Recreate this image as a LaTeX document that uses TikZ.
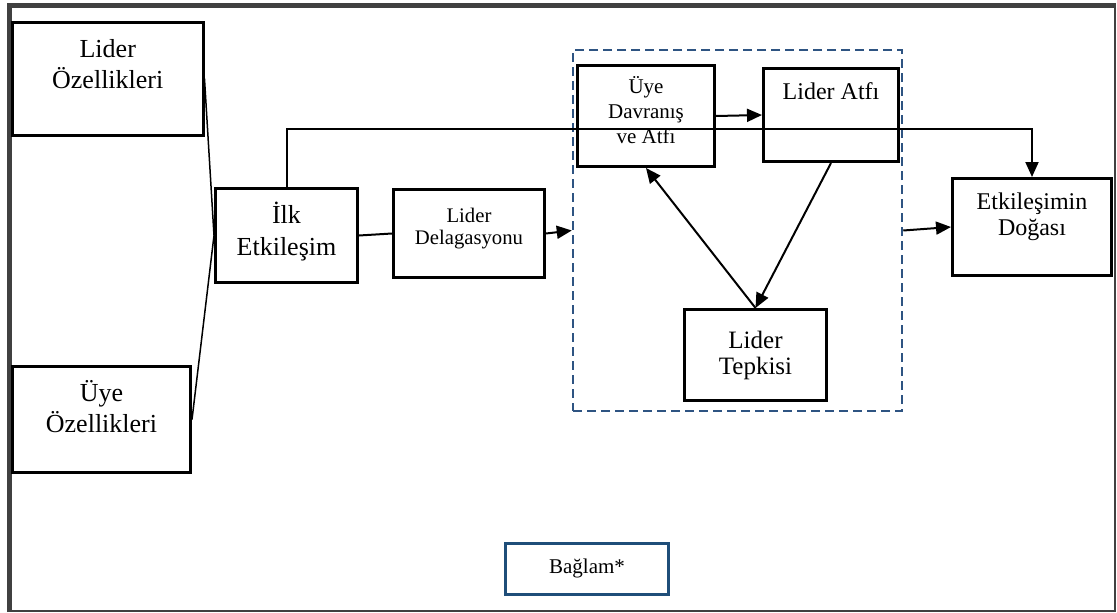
\documentclass[tikz,border=0pt]{standalone}
\usepackage{fontspec}
\setmainfont{Liberation Serif}
\usetikzlibrary{arrows.meta}
\definecolor{framegray}{RGB}{64,64,64}
\definecolor{dashblue}{RGB}{46,84,130}
\definecolor{ctxblue}{RGB}{31,78,121}

% a framed box given by the corners of its border line
\newcommand\cornerbox[6][]{%
  \node[boxframe,#1, minimum width={#5pt-#3pt}, minimum height={#6pt-#4pt}]
    (#2) at ({(#3+#5)/2},{(#4+#6)/2}) {};}

\begin{document}
\begin{tikzpicture}[x=1pt,y=-1pt,
  boxframe/.style={draw=black, line width=3pt, inner sep=0pt},
  groupframe/.style={draw=dashblue, line width=2.5pt, dash pattern=on 9pt off 5pt},
  ctxframe/.style={draw=ctxblue},
  lbl/.style={align=center, inner sep=0pt, anchor=north},
  fA/.style={font=\fontsize{26}{30}\selectfont},
  fB/.style={font=\fontsize{26}{32}\selectfont},
  fC/.style={font=\fontsize{20.7}{22}\selectfont},
  fD/.style={font=\fontsize{21}{25}\selectfont},
  fE/.style={font=\fontsize{24}{26}\selectfont},
  fF/.style={font=\fontsize{25}{26}\selectfont},
  link/.style={line width=1.5pt},
  plainline/.style={line width=2pt},
  flow/.style={line width=2pt, -{Triangle[length=15pt,width=13pt]}},
]
\useasboundingbox (0,0) rectangle (1117,613);

% outer frame, heavier on the top and left sides
\draw[framegray, line width=2pt] (9.5,5.5) rectangle (1115,611);
\draw[framegray, line width=5pt] (9.5,612) -- (9.5,5.5) -- (1116,5.5);

% boxes
\cornerbox{lo}{12.5}{22.5}{203}{135}
\cornerbox{uo}{12.5}{366.5}{190.5}{472.5}
\cornerbox{ie}{215.5}{188.5}{357.5}{282.5}
\cornerbox{ld}{393.5}{189.5}{544.5}{277.5}
\cornerbox{ud}{577.5}{65.5}{714.5}{166.5}
\cornerbox{la}{763.5}{68.5}{898.5}{161.5}
\cornerbox{lt}{684.5}{309.5}{826.5}{400.5}
\cornerbox{et}{952.5}{178.5}{1111.5}{275.5}
\cornerbox[ctxframe]{bg}{505.5}{543.5}{668.5}{594.5}
\cornerbox[groupframe]{grp}{573}{50}{902}{411}

% labels
\node[lbl,fA] (lo-t) at (lo.center |- 0,36)    {\strut Lider\\\strut Özellikleri};
\node[lbl,fA] (uo-t) at (uo.center |- 0,380)   {\strut Üye\\\strut Özellikleri};
\node[lbl,fB] (ie-t) at (ie.center |- 0,200.6) {\strut İlk\\\strut Etkileşim};
\node[lbl,fC] (ld-t) at (ld.center |- 0,206.6) {\strut Lider\\\strut Delagasyonu};
\node[lbl,fD] (ud-t) at (ud.center |- 0,75.8)  {\strut Üye\\\strut Davranış\\\strut ve Atfı};
\node[lbl,fE] (la-t) at (la.center |- 0,81)    {\strut Lider Atfı};
\node[lbl,fF] (lt-t) at (lt.center |- 0,329.8) {\strut Lider\\\strut Tepkisi};
\node[lbl,fE] (et-t) at (et.center |- 0,190.8) {\strut Etkileşimin\\\strut Doğası};
\node[lbl,fD] (bg-t) at (bg.center |- 0,555.5) {\strut Bağlam*};

% connectors
\draw[link] (lo.east) -- (ie.west);
\draw[link] (uo.east) -- (ie.west);
\draw[plainline] (ie.east) -- (ld.west);
\draw[flow] (ld.east) -- (grp.west);
\draw[flow] (grp.east) -- (et.west);
\draw[flow] (ie.north) -- (ie.north |- 0,129) -- (et.north |- 0,129) -- (et.north);
\draw[flow] (ud.east) -- (la.west);
\draw[flow] (lt.north) -- (ud.south);
\draw[flow] (la.south) -- (lt.north);
\end{tikzpicture}
\end{document}
